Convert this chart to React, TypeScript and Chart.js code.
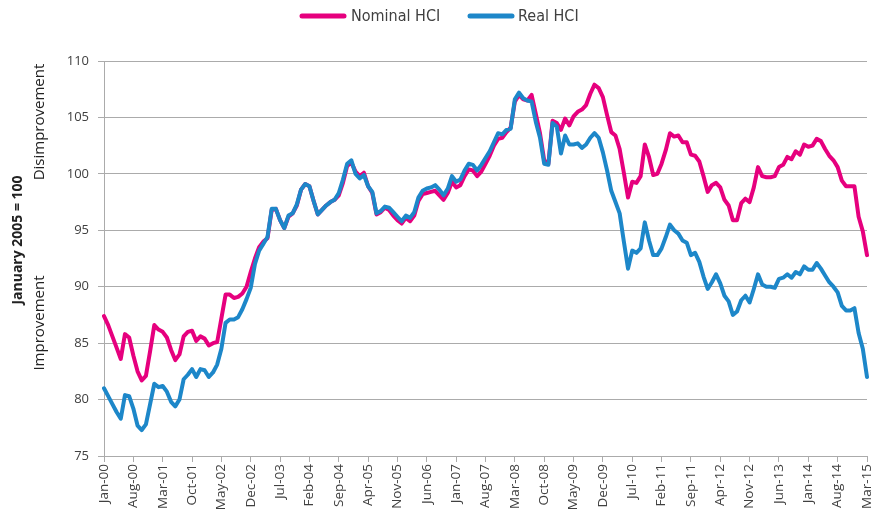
import React, { useEffect, useRef } from "react";
import { Chart, registerables } from "chart.js";

Chart.register(...registerables);

const MONTHS = ["Jan", "Feb", "Mar", "Apr", "May", "Jun", "Jul", "Aug", "Sep", "Oct", "Nov", "Dec"];
const FIRST_YEAR = 2000;
const N_POINTS = 183; // Jan-00 .. Mar-15
const LABEL_STEP = 7;

const categories: string[] = [];
for (let i = 0; i < N_POINTS; i++) {
  const y = FIRST_YEAR + Math.floor(i / 12);
  categories.push(MONTHS[i % 12] + "-" + String(y % 100).padStart(2, "0"));
}

const nominalHCI = [
  87.4, 86.6, 85.6, 84.6, 83.6, 85.8, 85.5, 83.9, 82.5, 81.7, 82.1, 84.3,
  86.6, 86.2, 86.0, 85.5, 84.4, 83.5, 84.0, 85.6, 86.0, 86.1, 85.2, 85.6,
  85.4, 84.8, 85.0, 85.1, 87.2, 89.3, 89.3, 89.0, 89.1, 89.4, 90.0, 91.3,
  92.5, 93.5, 94.0, 94.3, 96.8, 96.9, 95.9, 95.2, 96.2, 96.5, 97.2, 98.6,
  99.1, 98.9, 97.6, 96.4, 96.8, 97.2, 97.5, 97.7, 98.1, 99.2, 100.7, 101.0,
  100.2, 99.8, 100.1, 98.9, 98.3, 96.4, 96.6, 97.0, 96.8, 96.3, 95.9, 95.6,
  96.1, 95.8, 96.3, 97.6, 98.2, 98.3, 98.4, 98.5, 98.1, 97.7, 98.3, 99.3,
  98.8, 99.0, 99.8, 100.4, 100.3, 99.8, 100.2, 100.9, 101.6, 102.5, 103.1, 103.2,
  103.7, 104.1, 106.4, 107.0, 106.6, 106.5, 107.0, 105.3, 103.6, 101.2, 100.9, 104.7,
  104.5, 103.9, 104.9, 104.3, 105.1, 105.5, 105.7, 106.1, 107.1, 107.9, 107.6, 106.8,
  105.2, 103.7, 103.4, 102.2, 100.1, 97.9, 99.3, 99.2, 99.8, 102.6, 101.5, 99.9,
  100.0, 100.9, 102.1, 103.6, 103.3, 103.4, 102.8, 102.8, 101.7, 101.6, 101.1, 99.8,
  98.4, 99.0, 99.2, 98.8, 97.7, 97.2, 95.9, 95.9, 97.4, 97.8, 97.5, 98.8,
  100.6, 99.8, 99.7, 99.7, 99.8, 100.6, 100.8, 101.5, 101.3, 102.0, 101.7, 102.6,
  102.4, 102.5, 103.1, 102.9, 102.2, 101.6, 101.2, 100.6, 99.4, 98.9, 98.9, 98.9,
  96.2, 94.9, 92.8,
];

const realHCI = [
  81.0, 80.3, 79.6, 78.9, 78.3, 80.4, 80.3, 79.2, 77.7, 77.3, 77.8, 79.6,
  81.4, 81.1, 81.2, 80.7, 79.8, 79.4, 80.0, 81.8, 82.2, 82.7, 82.0, 82.7,
  82.6, 82.0, 82.4, 83.1, 84.5, 86.8, 87.1, 87.1, 87.3, 88.0, 88.9, 89.9,
  92.0, 93.2, 93.8, 94.4, 96.9, 96.9, 95.9, 95.2, 96.3, 96.5, 97.3, 98.6,
  99.1, 98.9, 97.6, 96.4, 96.8, 97.2, 97.5, 97.7, 98.3, 99.5, 100.9, 101.2,
  100.0, 99.6, 99.9, 98.9, 98.4, 96.5, 96.7, 97.1, 97.0, 96.6, 96.2, 95.8,
  96.3, 96.1, 96.6, 97.9, 98.5, 98.7, 98.8, 99.0, 98.6, 98.1, 98.7, 99.8,
  99.3, 99.5, 100.3, 100.9, 100.8, 100.3, 100.8, 101.4, 102.0, 102.8, 103.6, 103.5,
  103.9, 104.0, 106.6, 107.2, 106.7, 106.5, 106.4, 104.6, 103.2, 100.9, 100.8, 104.5,
  104.2, 101.8, 103.4, 102.6, 102.6, 102.7, 102.3, 102.6, 103.2, 103.6, 103.2, 101.9,
  100.3, 98.5, 97.5, 96.5, 94.0, 91.6, 93.2, 93.0, 93.4, 95.7, 94.1, 92.8,
  92.8, 93.4, 94.4, 95.5, 95.0, 94.7, 94.1, 93.9, 92.8, 93.0, 92.2, 90.9,
  89.8, 90.4, 91.1, 90.3, 89.2, 88.7, 87.5, 87.8, 88.8, 89.2, 88.6, 89.8,
  91.1, 90.2, 90.0, 90.0, 89.9, 90.7, 90.8, 91.1, 90.8, 91.3, 91.1, 91.8,
  91.5, 91.5, 92.1, 91.6, 91.0, 90.4, 90.0, 89.5, 88.3, 87.9, 87.9, 88.1,
  85.9, 84.5, 82.0,
];

const SERIES_NAMES = ["Nominal HCI", "Real HCI"];
const Y_TICKS_MIN = 75;
const Y_TICKS_MAX = 110;
const Y_STEP = 5;

const PINK = "#E6007E";
const BLUE = "#1D87C9";
const GRID = "#ABABAB";
const TEXT = "#404040";

const decorPlugin = {
  id: "decor",
  afterDraw(chart: any) {
    const ctx = chart.ctx as CanvasRenderingContext2D;
    ctx.save();
    // Legend
    const items = [
      { color: PINK, text: SERIES_NAMES[0], x0: 300, x1: 346, tx: 351 },
      { color: BLUE, text: SERIES_NAMES[1], x0: 468, x1: 514, tx: 518 },
    ];
    const ly = 16;
    ctx.font = "16px 'Liberation Sans Narrow', 'DejaVu Sans Condensed', sans-serif";
    ctx.textBaseline = "middle";
    ctx.textAlign = "left";
    items.forEach((it) => {
      ctx.strokeStyle = it.color;
      ctx.lineWidth = 5;
      ctx.lineCap = "round";
      ctx.beginPath();
      ctx.moveTo(it.x0 + 2, ly);
      ctx.lineTo(it.x1 - 2, ly);
      ctx.stroke();
      ctx.fillStyle = TEXT;
      ctx.fillText(it.text, it.tx, ly + 1);
    });

    // Y-axis titles
    ctx.fillStyle = "#222";
    ctx.textAlign = "center";
    ctx.textBaseline = "middle";
    const drawRot = (text: string, x: number, y: number, font: string) => {
      ctx.save();
      ctx.translate(x, y);
      ctx.rotate(-Math.PI / 2);
      ctx.font = font;
      ctx.fillText(text, 0, 0);
      ctx.restore();
    };
    drawRot("January 2005 = 100", 18, 240, "bold 14px 'Open Sans', sans-serif");
    drawRot("Disimprovement", 40, 122, "15px 'Open Sans', sans-serif");
    drawRot("Improvement", 40, 323, "15px 'Open Sans', sans-serif");
    ctx.restore();
  },
};

export default function App() {
  const canvasRef = useRef<HTMLCanvasElement | null>(null);

  useEffect(() => {
    if (!canvasRef.current) return;
    const chart = new Chart(canvasRef.current, {
      type: "line",
      data: {
        labels: categories,
        datasets: [
          {
            label: SERIES_NAMES[0],
            data: nominalHCI,
            borderColor: PINK,
            backgroundColor: PINK,
            borderWidth: 4,
            pointRadius: 0,
            tension: 0,
            borderJoinStyle: "round",
            borderCapStyle: "round",
            order: 1,
          },
          {
            label: SERIES_NAMES[1],
            data: realHCI,
            borderColor: BLUE,
            backgroundColor: BLUE,
            borderWidth: 4,
            pointRadius: 0,
            tension: 0,
            borderJoinStyle: "round",
            borderCapStyle: "round",
            order: 0,
          },
        ],
      },
      options: {
        responsive: false,
        animation: false,
        layout: { padding: { top: 61, left: 0, right: 10, bottom: 0 } },
        plugins: {
          legend: { display: false },
          tooltip: { enabled: false },
        },
        scales: {
          x: {
            type: "category",
            offset: false,
            grid: {
              drawOnChartArea: false,
              drawTicks: true,
              tickLength: 6,
              color: GRID,
            },
            border: { display: true, color: GRID, width: 1 },
            ticks: {
              autoSkip: false,
              minRotation: 90,
              maxRotation: 90,
              padding: 2,
              color: TEXT,
              font: { family: "'Open Sans', sans-serif", size: 13.5 },
              callback: (_v: any, i: number) => (i % LABEL_STEP === 0 ? categories[i] : null),
            },
            afterFit: (scale: any) => {
              scale.height = 71;
              scale.paddingLeft = 0;
              scale.paddingRight = 0;
            },
          },
          y: {
            min: Y_TICKS_MIN,
            max: Y_TICKS_MAX,
            grid: {
              color: GRID,
              lineWidth: 1,
              drawTicks: true,
              tickLength: 6,
            },
            border: { display: true, color: GRID, width: 1 },
            ticks: {
              stepSize: Y_STEP,
              padding: 9,
              color: TEXT,
              font: { family: "'Open Sans', sans-serif", size: 13 },
            },
            afterFit: (scale: any) => {
              scale.width = 104;
            },
          },
        },
      },
      plugins: [decorPlugin],
    });
    return () => chart.destroy();
  }, []);

  return (
    <div style={{ position: "absolute", left: 0, top: 0, width: 877, height: 527, background: "#fff" }}>
      <canvas ref={canvasRef} width={877} height={527} style={{ display: "block" }} />
    </div>
  );
}
